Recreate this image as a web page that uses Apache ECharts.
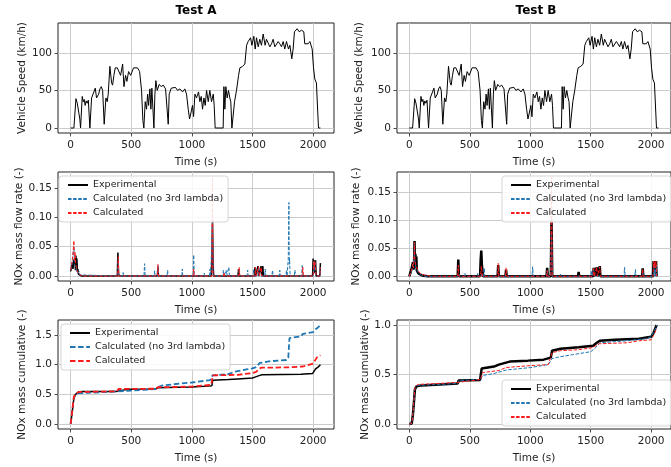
<!DOCTYPE html>
<html>
<head>
<meta charset="utf-8">
<script src="https://cdn.jsdelivr.net/npm/echarts@6/dist/echarts.min.js"></script>
<style>
html,body{margin:0;padding:0;background:#fff;}
#chart{width:671px;height:467px;}
</style>
</head>
<body>
<div id="chart"></div>
<script>
// ---------------- DATA ----------------
const xTicks = [0, 500, 1000, 1500, 2000];
const speedTicks = [0, 50, 100];
const flowTicks = [0, 0.05, 0.10, 0.15];
const cumTicksA = [0, 0.5, 1.0, 1.5];
const cumTicksB = [0, 0.5, 1.0];
const legendNames = ['Experimental', 'Calculated (no 3rd lambda)', 'Calculated'];

// Vehicle speed (km/h) vs time (s), same cycle in both tests
const speedProfile = [[0,0],[27,0],[44,39],[55,33],[66,35],[76,12],[82,0],[96,42],[104,35],[112,38],[120,30],[128,36],[137,33],[146,37],[159,0],[173,40],[192,48],[203,53],[214,40],[231,45],[242,52],[253,55],[264,50],[277,5],[291,40],[302,35],[310,45],[324,82],[338,60],[346,57],[357,70],[368,80],[385,80],[401,78],[412,70],[429,85],[440,55],[453,70],[464,62],[478,75],[495,70],[508,68],[519,80],[533,82],[552,80],[569,75],[585,50],[596,10],[604,0],[615,35],[626,25],[635,45],[643,30],[654,52],[662,25],[670,53],[687,0],[695,45],[703,63],[714,50],[731,58],[747,55],[764,57],[783,52],[791,50],[805,5],[813,45],[830,53],[846,52],[865,54],[882,50],[901,52],[923,48],[942,52],[956,45],[970,25],[981,12],[992,20],[1005,30],[1014,15],[1025,45],[1038,40],[1055,48],[1066,35],[1077,42],[1088,25],[1099,40],[1110,30],[1121,50],[1135,35],[1148,50],[1162,35],[1176,45],[1184,30],[1192,0],[1258,0],[1264,55],[1272,25],[1280,55],[1291,40],[1302,50],[1313,40],[1321,35],[1330,0],[1341,0],[1352,35],[1368,50],[1385,70],[1396,80],[1418,82],[1437,85],[1451,110],[1464,115],[1484,120],[1495,110],[1511,122],[1522,105],[1533,120],[1547,108],[1560,118],[1574,110],[1588,125],[1604,110],[1615,118],[1629,120],[1643,108],[1657,112],[1670,118],[1684,108],[1698,110],[1712,115],[1725,112],[1739,108],[1753,115],[1766,105],[1780,115],[1797,105],[1808,110],[1824,92],[1835,105],[1846,128],[1868,132],[1885,128],[1904,130],[1923,128],[1931,112],[1945,110],[1959,112],[1973,115],[1992,105],[2003,80],[2014,65],[2027,60],[2044,0],[2060,0]];

// NOx mass flow rate, Test A
const flowExpA = [[0,0.008],[8,0.015],[15,0.022],[20,0.012],[25,0.028],[30,0.018],[35,0.03],[40,0.01],[44,0.035],[48,0.015],[52,0.03],[56,0.008],[60,0.012],[66,0.003],[75,0.001],[90,0],[385,0],[390,0.04],[395,0.005],[400,0],[715,0],[720,0.015],[725,0],[1160,0],[1165,0.03],[1170,0.095],[1175,0.02],[1180,0],[1380,0],[1385,0.012],[1390,0],[1515,0],[1520,0.015],[1525,0],[1540,0],[1545,0.017],[1550,0],[1565,0],[1570,0.017],[1575,0],[1580,0],[1585,0.017],[1590,0],[1995,0],[2000,0.03],[2005,0.01],[2010,0.027],[2015,0.005],[2020,0.027],[2025,0],[2055,0],[2060,0.022]];
const flowNo3A = [[0,0.01],[10,0.018],[20,0.02],[27,0.05],[32,0.02],[40,0.015],[50,0.008],[60,0.004],[70,0.008],[75,0.002],[90,0],[390,0],[393,0.03],[397,0],[430,0],[433,0.006],[436,0],[605,0],[610,0.021],[615,0],[690,0],[693,0.009],[696,0],[715,0],[720,0.018],[725,0],[795,0],[800,0.01],[805,0],[918,0],[921,0.012],[924,0],[1010,0],[1015,0.036],[1020,0],[1100,0],[1103,0.005],[1106,0],[1145,0],[1150,0.012],[1155,0],[1165,0],[1170,0.09],[1175,0],[1255,0],[1260,0.01],[1265,0],[1280,0],[1283,0.01],[1286,0],[1300,0],[1305,0.015],[1310,0],[1385,0],[1390,0.01],[1395,0],[1455,0],[1460,0.01],[1465,0],[1505,0],[1510,0.012],[1515,0],[1545,0],[1550,0.016],[1555,0],[1600,0],[1605,0.012],[1610,0],[1660,0],[1665,0.01],[1670,0],[1720,0],[1725,0.01],[1730,0],[1775,0],[1780,0.01],[1785,0],[1790,0],[1795,0.03],[1800,0.125],[1803,0.02],[1806,0.03],[1810,0],[1845,0],[1850,0.01],[1855,0],[1905,0],[1910,0.018],[1915,0],[2000,0],[2005,0.025],[2010,0.01],[2015,0.025],[2020,0],[2055,0],[2060,0.015]];
const flowCalcA = [[0,0.01],[8,0.02],[15,0.03],[22,0.045],[27,0.06],[32,0.025],[38,0.04],[42,0.02],[48,0.015],[55,0.008],[65,0.004],[80,0.001],[95,0],[388,0],[393,0.033],[398,0],[715,0],[720,0.02],[725,0],[1010,0],[1015,0.012],[1020,0],[1165,0],[1170,0.168],[1175,0],[1260,0],[1265,0.006],[1270,0],[1385,0],[1390,0.015],[1395,0],[1520,0],[1525,0.015],[1530,0],[1545,0],[1550,0.016],[1555,0],[1568,0],[1572,0.015],[1576,0],[1910,0],[1915,0.015],[1920,0],[2000,0],[2005,0.025],[2010,0.015],[2015,0.025],[2020,0.01],[2025,0],[2055,0],[2060,0.015]];

// NOx mass flow rate, Test B
const flowExpB = [[0,0],[15,0.003],[20,0.015],[25,0.02],[30,0.025],[35,0.012],[40,0.03],[43,0.063],[46,0.02],[50,0.04],[54,0.015],[58,0.035],[62,0.01],[68,0.008],[75,0.005],[85,0.003],[100,0.002],[120,0.001],[150,0],[320,0],[325,0.002],[330,0],[400,0],[405,0.03],[410,0],[585,0],[590,0.03],[595,0.046],[600,0.02],[605,0.01],[610,0],[730,0],[735,0.02],[740,0],[795,0],[800,0.012],[805,0],[1135,0],[1140,0.015],[1145,0],[1170,0],[1176,0.1],[1182,0],[1395,0],[1400,0.008],[1405,0],[1520,0],[1525,0.015],[1530,0],[1545,0],[1550,0.016],[1555,0],[1570,0],[1575,0.018],[1580,0],[1925,0],[1930,0.014],[1935,0],[2015,0],[2020,0.027],[2025,0.01],[2030,0.027],[2035,0.01],[2040,0.027],[2045,0],[2050,0]];
const flowNo3B = [[0,0],[20,0.01],[30,0.02],[38,0.03],[42,0.055],[46,0.025],[55,0.015],[65,0.01],[80,0.005],[100,0.002],[130,0],[410,0],[415,0.004],[420,0],[455,0],[460,0.005],[465,0],[560,0],[565,0.005],[570,0],[615,0],[620,0.015],[625,0],[1015,0],[1020,0.017],[1025,0],[1135,0],[1140,0.01],[1145,0],[1170,0],[1176,0.08],[1182,0],[1245,0],[1250,0.004],[1255,0],[1500,0],[1505,0.01],[1510,0],[1520,0],[1525,0.012],[1530,0],[1775,0],[1780,0.016],[1785,0],[1865,0],[1870,0.012],[1875,0],[1925,0],[1930,0.01],[1935,0],[2020,0],[2025,0.02],[2030,0],[2040,0],[2043,0.02],[2046,0]];
const flowCalcB = [[0,0],[15,0.003],[20,0.012],[25,0.018],[30,0.022],[35,0.015],[38,0.03],[42,0.06],[46,0.03],[50,0.025],[54,0.02],[58,0.022],[62,0.015],[68,0.012],[75,0.009],[85,0.006],[95,0.004],[110,0.003],[130,0.002],[160,0.001],[200,0],[400,0],[405,0.02],[410,0],[590,0],[595,0.018],[600,0.01],[605,0],[730,0],[735,0.023],[740,0],[795,0],[800,0.015],[805,0],[1135,0],[1140,0.01],[1145,0],[1170,0],[1176,0.177],[1182,0],[1520,0],[1525,0.014],[1530,0],[1545,0],[1550,0.016],[1555,0],[1570,0],[1575,0.017],[1580,0],[1925,0],[1930,0.013],[1935,0],[2015,0],[2020,0.027],[2025,0.015],[2030,0.027],[2035,0.015],[2040,0.027],[2045,0]];

// NOx cumulative, Test A
const cumExpA = [[0,0],[10,0.15],[20,0.32],[27,0.43],[40,0.5],[50,0.53],[70,0.545],[100,0.55],[380,0.55],[392,0.58],[470,0.585],[700,0.59],[720,0.61],[800,0.615],[1000,0.625],[1100,0.635],[1165,0.645],[1172,0.74],[1300,0.75],[1380,0.76],[1500,0.775],[1520,0.79],[1560,0.82],[1580,0.83],[1900,0.84],[1995,0.85],[2005,0.87],[2020,0.93],[2040,0.96],[2060,1.0]];
const cumNo3A = [[0,0],[10,0.15],[20,0.33],[27,0.45],[45,0.5],[70,0.52],[200,0.53],[380,0.55],[395,0.57],[600,0.575],[610,0.58],[700,0.59],[720,0.62],[760,0.65],[850,0.67],[1000,0.70],[1015,0.72],[1150,0.74],[1170,0.82],[1300,0.84],[1350,0.88],[1450,0.92],[1500,0.94],[1530,0.96],[1560,1.03],[1650,1.06],[1780,1.08],[1795,1.12],[1805,1.45],[1900,1.48],[1915,1.52],[2000,1.55],[2020,1.6],[2040,1.63],[2060,1.67]];
const cumCalcA = [[0,0],[10,0.16],[20,0.34],[27,0.46],[45,0.52],[70,0.54],[380,0.55],[395,0.59],[700,0.595],[720,0.62],[1000,0.63],[1015,0.64],[1160,0.66],[1172,0.82],[1380,0.83],[1390,0.85],[1500,0.86],[1530,0.88],[1570,0.95],[1800,0.955],[1910,0.97],[1950,0.99],[2000,1.02],[2015,1.05],[2030,1.12],[2045,1.15],[2060,1.16]];

// NOx cumulative, Test B
const cumExpB = [[0,0],[20,0.005],[30,0.1],[40,0.25],[46,0.35],[60,0.38],[100,0.39],[250,0.40],[400,0.41],[408,0.44],[585,0.445],[598,0.56],[610,0.575],[700,0.58],[740,0.60],[800,0.62],[830,0.63],[980,0.64],[1110,0.65],[1170,0.67],[1180,0.74],[1250,0.76],[1400,0.775],[1520,0.79],[1550,0.82],[1575,0.84],[1700,0.85],[1900,0.86],[1950,0.87],[2000,0.88],[2020,0.92],[2035,0.97],[2046,1.0]];
const cumNo3B = [[0,0],[20,0.005],[30,0.1],[40,0.26],[46,0.36],[70,0.39],[250,0.40],[400,0.41],[410,0.44],[590,0.45],[605,0.49],[700,0.51],[800,0.545],[1000,0.57],[1150,0.60],[1180,0.66],[1250,0.68],[1350,0.70],[1500,0.73],[1540,0.77],[1575,0.82],[1800,0.84],[1950,0.86],[2000,0.88],[2030,0.95],[2046,1.0]];
const cumCalcB = [[0,0],[20,0.005],[30,0.11],[40,0.27],[46,0.37],[70,0.40],[250,0.41],[400,0.42],[410,0.44],[590,0.45],[605,0.52],[740,0.54],[800,0.57],[1000,0.59],[1150,0.60],[1180,0.72],[1250,0.74],[1400,0.75],[1510,0.77],[1570,0.81],[1800,0.82],[1900,0.84],[2000,0.85],[2030,0.92],[2046,0.97]];

// ---------------- CHART ----------------
const FONT = 'DejaVu Sans';
const BLUE = '#1f77b4', RED = '#ff1a1a', BLACK = '#000000';
const chart = echarts.init(document.getElementById('chart'), null, {renderer: 'canvas'});

const grids = [
  {left: 58, top: 23, width: 276, height: 110},
  {left: 397, top: 23, width: 279, height: 110},
  {left: 58, top: 172, width: 276, height: 109},
  {left: 397, top: 172, width: 279, height: 109},
  {left: 58, top: 320, width: 276, height: 109},
  {left: 397, top: 320, width: 279, height: 109}
].map(g => Object.assign({show: true, borderColor: '#222', borderWidth: 1, backgroundColor: 'transparent', containLabel: false}, g));

function xAxis(i, min, max) {
  return {
    type: 'value', gridIndex: i, min: min, max: max,
    name: 'Time (s)', nameLocation: 'middle', nameGap: 24,
    nameTextStyle: {fontFamily: FONT, fontSize: 10.5, color: '#222'},
    axisLine: {show: false, onZero: false},
    axisTick: {show: true, length: 3.5, customValues: xTicks, lineStyle: {color: '#222', width: 0.8}},
    axisLabel: {customValues: xTicks, fontFamily: FONT, fontSize: 10.5, color: '#222', margin: 7,
      formatter: v => String(Math.round(v))},
    splitLine: {show: true, lineStyle: {color: '#cccccc', width: 1}}
  };
}
function yAxis(i, min, max, ticks, name, gap, digits) {
  return {
    type: 'value', gridIndex: i, min: min, max: max,
    name: name, nameLocation: 'middle', nameGap: gap, nameRotate: 90,
    nameTextStyle: {fontFamily: FONT, fontSize: 10.5, color: '#222'},
    axisLine: {show: false, onZero: false},
    axisTick: {show: true, length: 3.5, customValues: ticks, lineStyle: {color: '#222', width: 0.8}},
    axisLabel: {customValues: ticks, fontFamily: FONT, fontSize: 10.5, color: '#222', margin: 6,
      formatter: v => digits === null ? String(Math.round(v)) : Number(v).toFixed(digits)},
    splitLine: {show: true, lineStyle: {color: '#cccccc', width: 1}}
  };
}

function line(name, i, data, color, width, dash) {
  return {
    type: 'line', name: name, xAxisIndex: i, yAxisIndex: i, data: data,
    symbol: 'none', showSymbol: false, smooth: false, animation: false,
    lineStyle: {color: color, width: width, type: dash || 'solid'},
    itemStyle: {color: color},
    emphasis: {disabled: true}
  };
}

function legend(suffix, left, top) {
  return {
    orient: 'vertical', left: left, top: top,
    data: legendNames.map(n => n + '|' + suffix),
    formatter: n => n.split('|')[0],
    itemWidth: 20, itemHeight: 10, itemGap: 4,
    padding: [4, 5, 4, 8],
    itemStyle: {opacity: 0, borderWidth: 0},
    backgroundColor: 'rgba(255,255,255,0.85)',
    borderColor: '#d5d5d5', borderWidth: 1, borderRadius: 3,
    textStyle: {fontFamily: FONT, fontSize: 9.5, color: '#222'},
    selectedMode: false
  };
}

const thin = [3.5, 1.6];
const thick = [5.5, 2.6];

const option = {
  animation: false,
  backgroundColor: '#ffffff',
  grid: grids,
  xAxis: [xAxis(0, -104, 2172), xAxis(1, -102, 2164), xAxis(2, -104, 2172), xAxis(3, -102, 2164), xAxis(4, -104, 2172), xAxis(5, -102, 2164)],
  yAxis: [
    yAxis(0, -6.65, 139.65, speedTicks, 'Vehicle Speed (km/h)', 30, null),
    yAxis(1, -6.65, 139.65, speedTicks, 'Vehicle Speed (km/h)', 32, null),
    yAxis(2, -0.0084, 0.177, flowTicks, 'NOx mass flow rate (-)', 33, 2),
    yAxis(3, -0.0084, 0.186, flowTicks, 'NOx mass flow rate (-)', 35, 2),
    yAxis(4, -0.085, 1.755, cumTicksA, 'NOx mass cumulative (-)', 30, 1),
    yAxis(5, -0.05, 1.05, cumTicksB, 'NOx mass cumulative (-)', 26, 1)
  ],
  legend: [legend('a2', 59, 176), legend('b2', 502, 176), legend('a3', 61, 324), legend('b3', 502, 380)],
  graphic: [
    {type: 'text', x: 196, y: 5, style: {text: 'Test A', font: 'bold 12px "DejaVu Sans"', fill: '#000', textAlign: 'center'}},
    {type: 'text', x: 536, y: 5, style: {text: 'Test B', font: 'bold 12px "DejaVu Sans"', fill: '#000', textAlign: 'center'}}
  ],
  series: [
    line('speedA', 0, speedProfile, BLACK, 1),
    line('speedB', 1, speedProfile, BLACK, 1),

    line('Experimental|a2', 2, flowExpA, BLACK, 1.5),
    line('Calculated (no 3rd lambda)|a2', 2, flowNo3A, BLUE, 1, thin),
    line('Calculated|a2', 2, flowCalcA, RED, 1, thin),

    line('Experimental|b2', 3, flowExpB, BLACK, 2.5),
    line('Calculated (no 3rd lambda)|b2', 3, flowNo3B, BLUE, 1, thin),
    line('Calculated|b2', 3, flowCalcB, RED, 1, thin),

    line('Experimental|a3', 4, cumExpA, BLACK, 1.5),
    line('Calculated (no 3rd lambda)|a3', 4, cumNo3A, BLUE, 1.8, thick),
    line('Calculated|a3', 4, cumCalcA, RED, 1.8, thick),

    line('Experimental|b3', 5, cumExpB, BLACK, 2.5),
    line('Calculated (no 3rd lambda)|b3', 5, cumNo3B, BLUE, 1, thin),
    line('Calculated|b3', 5, cumCalcB, RED, 1, thin)
  ]
};
chart.setOption(option);
</script>
</body>
</html>
